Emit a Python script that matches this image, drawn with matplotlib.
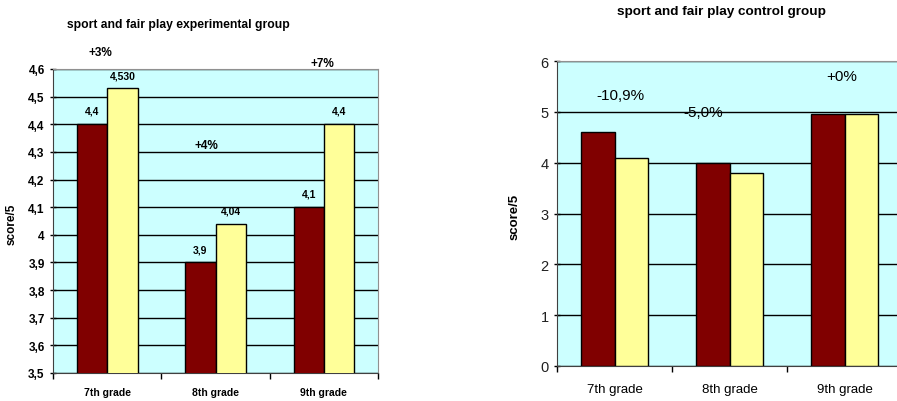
import numpy as np
import matplotlib.pyplot as plt

plt.rcParams['font.family'] = ['Liberation Sans', 'DejaVu Sans']

# data
grades = ['7th grade', '8th grade', '9th grade']
exp_before = [4.4, 3.9, 4.1]
exp_after = [4.53, 4.04, 4.4]
exp_before_lbl = ['4,4', '3,9', '4,1']
exp_after_lbl = ['4,530', '4,04', '4,4']
exp_change = ['+3%', '+4%', '+7%']
exp_ticks = ['3,5', '3,6', '3,7', '3,8', '3,9', '4', '4,1', '4,2', '4,3', '4,4', '4,5', '4,6']
ctl_before = [4.6, 4.0, 4.95]
ctl_after = [4.1, 3.8, 4.95]
ctl_change = ['-10,9%', '-5,0%', '+0%']

dark = '#800000'
light = '#FFFF99'
bg = '#CCFFFF'

fig = plt.figure(figsize=(8.97, 4.02), dpi=100)
W, H = 897, 402

def px_axes(x0, y0, x1, y1):
    return fig.add_axes([x0 / W, 1 - y1 / H, (x1 - x0) / W, (y1 - y0) / H])

x = np.arange(len(grades))

def style(ax, bold):
    ax.set_facecolor(bg)
    ax.set_xlim(-0.5, 2.5)
    ax.set_xticks(x)
    ax.set_xticklabels(grades, fontweight='bold' if bold else 'normal',
                       fontsize=7.5 if bold else 9.5)
    ax.set_xticks([-0.5, 0.5, 1.5, 2.5], minor=True)
    ax.tick_params(axis='x', which='major', length=0, pad=10 if bold else 12)
    ax.tick_params(axis='x', which='minor', length=4, width=1, direction='out')
    ax.tick_params(axis='y', length=5, width=1, direction='inout')
    ax.yaxis.grid(True, color='black', lw=1)
    ax.set_axisbelow(True)
    ax.spines['left'].set_color('#404040')
    ax.spines['bottom'].set_color('#404040')
    ax.spines['top'].set_color('#909090')
    ax.spines['right'].set_color('#909090')

# experimental group
ax1 = px_axes(53, 70, 378, 374)
bw = 0.28
ax1.bar(x - bw / 2, exp_before, bw, color=dark, edgecolor='black', lw=1, zorder=3)
ax1.bar(x + bw / 2, exp_after, bw, color=light, edgecolor='black', lw=1, zorder=3)
ax1.set_ylim(3.5, 4.6)
ax1.set_yticks(np.linspace(3.5, 4.6, len(exp_ticks)))
ax1.set_yticklabels(exp_ticks, fontweight='bold', fontsize=8.5)
style(ax1, True)
for xi, v, s in zip(x - bw / 2, exp_before, exp_before_lbl):
    ax1.annotate(s, (xi, v), xytext=(0, 6), textcoords='offset points',
                 ha='center', va='bottom', fontsize=7.5, fontweight='bold')
for xi, v, s in zip(x + bw / 2, exp_after, exp_after_lbl):
    ax1.annotate(s, (xi, v), xytext=(0, 6), textcoords='offset points',
                 ha='center', va='bottom', fontsize=7.5, fontweight='bold', annotation_clip=False)
for (px, py), s in zip([(-0.065, 4.662), (0.917, 4.325), (1.99, 4.622)], exp_change):
    ax1.text(px, py, s, ha='center', va='center', fontsize=8.5, fontweight='bold', clip_on=False)
fig.text(178 / W, 1 - 25 / H, 'sport and fair play experimental group',
         ha='center', va='center', fontsize=8.7, fontweight='bold')
fig.text(12 / W, 1 - 224 / H, 'score/5', rotation=90, ha='center', va='center',
         fontsize=8.5, fontweight='bold')

# control group
ax2 = px_axes(557, 62, 902, 367)
bw2 = 0.287
ax2.bar(x - bw2 / 2, ctl_before, bw2, color=dark, edgecolor='black', lw=1, zorder=3)
ax2.bar(x + bw2 / 2, ctl_after, bw2, color=light, edgecolor='black', lw=1, zorder=3)
ax2.set_ylim(0, 6)
ax2.set_yticks(range(7))
ax2.set_yticklabels([str(i) for i in range(7)], fontsize=10.5, color='#202020')
style(ax2, False)
for (px, py), s in zip([(0.048, 5.33), (0.77, 5.0), (1.978, 5.70)], ctl_change):
    ax2.text(px, py, s, ha='center', va='center', fontsize=11, zorder=5)
fig.text(721 / W, 1 - 12 / H, 'sport and fair play control group', ha='center', va='center',
         fontsize=9.7, fontweight='bold')
fig.text(515 / W, 1 - 217 / H, 'score/5', rotation=90, ha='center', va='center',
         fontsize=9.5, fontweight='bold')

fig.savefig('out.png', dpi=100)
